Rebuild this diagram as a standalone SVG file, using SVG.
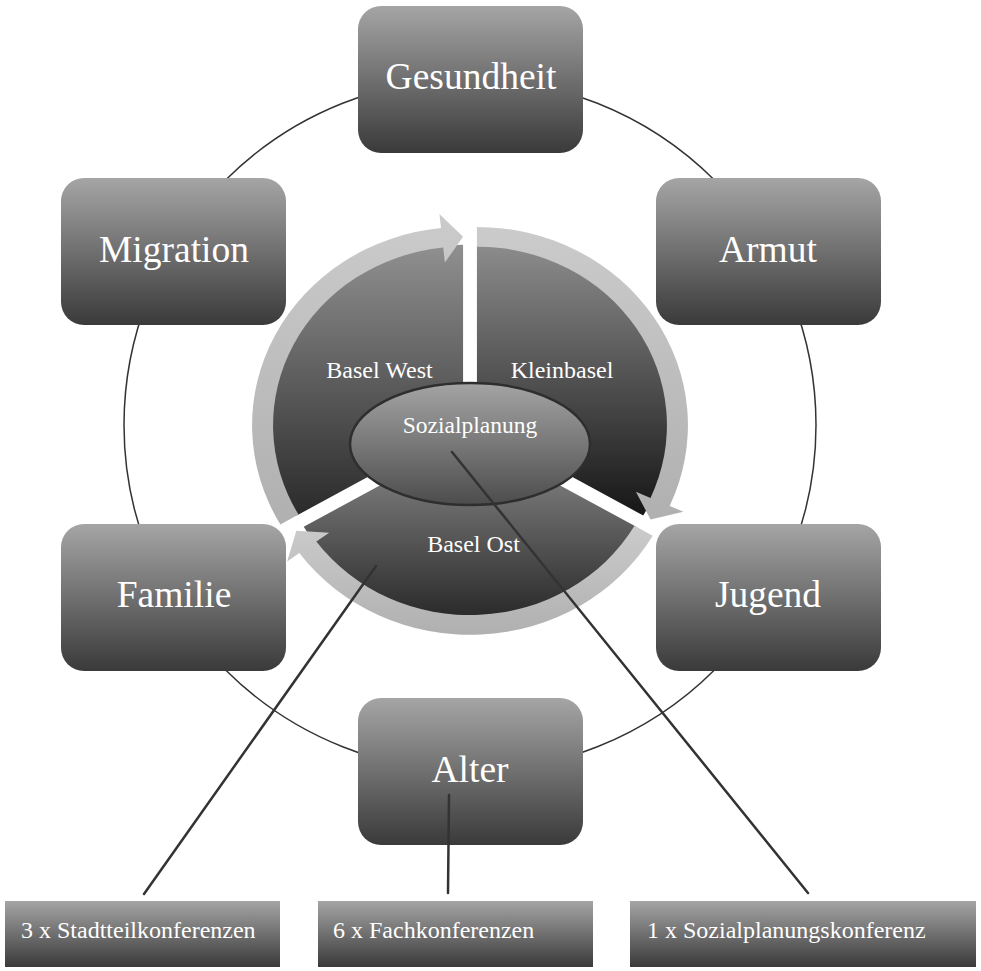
<svg xmlns="http://www.w3.org/2000/svg" width="981" height="971" viewBox="0 0 981 971">
<defs>
<linearGradient id="gBox" x1="0" y1="0" x2="0" y2="1">
<stop offset="0" stop-color="#a5a5a5"/>
<stop offset="1" stop-color="#3a3a3a"/>
</linearGradient>
<linearGradient id="gSeg" x1="0" y1="0" x2="0" y2="1">
<stop offset="0" stop-color="#909090"/>
<stop offset="1" stop-color="#2a2a2a"/>
</linearGradient>
<linearGradient id="gSegK" x1="0" y1="0" x2="0" y2="1">
<stop offset="0" stop-color="#8c8c8c"/>
<stop offset="1" stop-color="#161616"/>
</linearGradient>
<linearGradient id="gBand" x1="0" y1="0" x2="0" y2="1">
<stop offset="0" stop-color="#cbcbcb"/>
<stop offset="1" stop-color="#b0b0b0"/>
</linearGradient>
<linearGradient id="gEll" x1="0" y1="0" x2="0" y2="1">
<stop offset="0" stop-color="#a4a4a4"/>
<stop offset="1" stop-color="#4c4c4c"/>
</linearGradient>
</defs>
<style>
.box{fill:url(#gBox);}
.lbl{font-family:"Liberation Serif","Times New Roman",serif;fill:#ffffff;text-anchor:middle;}
.big{font-size:37.5px;}
.mid{font-size:24px;}
.bot{font-family:"Liberation Serif","Times New Roman",serif;fill:#ffffff;font-size:24px;}
.band{fill:url(#gBand);}
.conn{stroke:#333333;stroke-width:2.5;fill:none;stroke-linecap:round;}
</style>
<rect width="981" height="971" fill="#ffffff"/>
<circle cx="470" cy="425" r="346" fill="none" stroke="#333333" stroke-width="1.5"/>

<g id="cycle" transform="translate(470,429) scale(1,0.94)">
<g id="seg-west" transform="translate(-6.93,-4)">
<path d="M0,0 L-166.28,96 A192,192 0 0 1 0,-192 Z" fill="url(#gSeg)"/>
<path class="band" d="M-182.73,105.5 A211,211 0 0 1 -22.06,-209.84 L-23.62,-224.76 L0,-200.5 L-18.19,-173.05 L-19.86,-188.96 A190,190 0 0 0 -164.54,95 Z"/>
</g>
<g id="seg-klein" transform="translate(6.93,-4)">
<path d="M0,0 L0,-192 A192,192 0 0 1 166.28,96 Z" fill="url(#gSegK)"/>
<path class="band" d="M0,-211 A211,211 0 0 1 192.76,85.82 L206.46,91.92 L173.64,100.25 L158.96,70.77 L173.57,77.28 A190,190 0 0 0 0,-190 Z"/>
</g>
<g id="seg-ost" transform="translate(0,8)">
<path d="M0,0 L166.28,96 A192,192 0 0 1 -166.28,96 Z" fill="url(#gSeg)"/>
<path class="band" d="M182.73,105.5 A211,211 0 0 1 -170.70,124.02 L-182.84,132.84 L-173.64,100.25 L-140.77,102.28 L-153.71,111.68 A190,190 0 0 0 164.54,95 Z"/>
</g>
</g>
<g id="sozialplanung">
<ellipse cx="470" cy="444" rx="120" ry="61" fill="url(#gEll)" stroke="#2e2e2e" stroke-width="2.5"/>
<text class="lbl" x="470" y="433" font-size="23.5">Sozialplanung</text>
</g>
<text class="lbl mid" x="379.5" y="378">Basel West</text>
<text class="lbl mid" x="562" y="378">Kleinbasel</text>
<text class="lbl mid" x="473.5" y="552">Basel Ost</text>

<g id="gesundheit"><rect class="box" x="358" y="6" width="225" height="147" rx="23"/><text class="lbl big" x="471" y="89">Gesundheit</text></g>
<g id="armut"><rect class="box" x="656" y="178" width="225" height="147" rx="23"/><text class="lbl big" x="768" y="262">Armut</text></g>
<g id="jugend"><rect class="box" x="656" y="524" width="225" height="147" rx="23"/><text class="lbl big" x="768" y="607">Jugend</text></g>
<g id="alter"><rect class="box" x="358" y="698" width="225" height="147" rx="23"/><text class="lbl big" x="470" y="782">Alter</text></g>
<g id="familie"><rect class="box" x="61" y="524" width="225" height="147" rx="23"/><text class="lbl big" x="174" y="607">Familie</text></g>
<g id="migration"><rect class="box" x="61" y="178" width="225" height="147" rx="23"/><text class="lbl big" x="174" y="262">Migration</text></g>

<g id="connectors">
<line class="conn" x1="376" y1="566" x2="144" y2="894"/>
<line class="conn" x1="449" y1="795" x2="448" y2="893"/>
<line class="conn" x1="452" y1="452" x2="808" y2="893"/>
</g>

<g id="stadtteil"><rect class="box" x="5" y="901" width="275" height="66"/><text class="bot" x="21" y="938">3 x Stadtteilkonferenzen</text></g>
<g id="fach"><rect class="box" x="318" y="901" width="275" height="66"/><text class="bot" x="333" y="938">6 x Fachkonferenzen</text></g>
<g id="sozialkonf"><rect class="box" x="630" y="901" width="346" height="66"/><text class="bot" x="647" y="938">1 x Sozialplanungskonferenz</text></g>
</svg>
